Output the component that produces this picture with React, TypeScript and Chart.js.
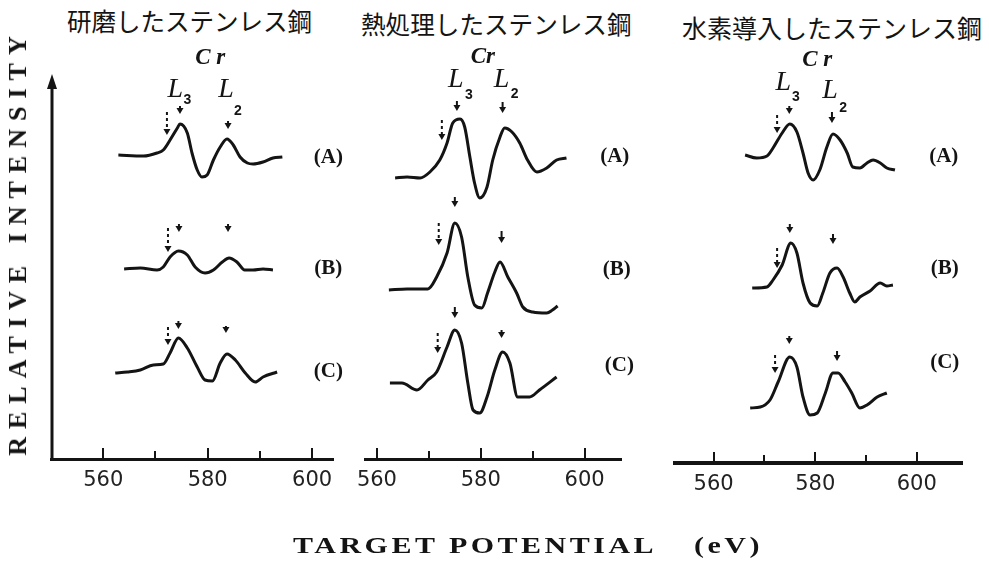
import React, { useEffect, useRef } from 'react';
import { Chart, registerables } from 'chart.js';

Chart.register(...registerables);

const INK = '#141414';
const W = 989;
const H = 561;

const TITLES = ['研磨したステンレス鋼', '熱処理したステンレス鋼', '水素導入したステンレス鋼'];
const X_TITLE = 'TARGET POTENTIAL';
const X_UNIT = '(eV)';
const Y_TITLE = 'RELATIVE INTENSITY';
const TICK_VALUES = [560, 570, 580, 590, 600];
const SPECTRUM_TAGS = ['(A)', '(B)', '(C)'];

// ---- Panel 1: polished stainless steel (研磨) ----
const polA_eV = [562.9, 567.7, 570.3, 571.5, 572.8, 574.2, 574.7, 576.1, 577.0, 578.0, 578.9, 579.9, 581.1, 582.4, 583.7, 584.9, 586.2, 587.6, 588.7, 590.6, 592.5, 594.3];
const polA_I = [304, 303, 306, 309, 319, 331, 335, 326, 306, 289, 282, 284, 299, 312, 320, 314, 302, 296, 295, 297, 301, 302];
const polB_eV = [564.0, 567.1, 570.3, 571.5, 572.8, 574.4, 576.1, 577.6, 579.5, 581.1, 582.8, 584.1, 585.6, 587.1, 588.7, 590.6, 592.5];
const polB_I = [190, 191, 189, 192, 202, 208, 204, 192, 186, 189, 197, 201, 197, 189, 189, 190, 189];
const polC_eV = [562.3, 564.6, 567.1, 569.6, 571.5, 572.8, 574.4, 576.1, 578.0, 579.5, 580.9, 582.4, 583.7, 585.3, 587.2, 589.1, 590.6, 593.3];
const polC_I = [86, 87, 89, 94, 95, 106, 121, 111, 92, 79, 78, 96, 105, 99, 86, 77, 82, 87];

// ---- Panel 2: heat-treated stainless steel (熱処理) ----
const heatA_eV = [563.5, 565.8, 568.3, 570.2, 572.1, 573.5, 574.6, 576.0, 576.9, 577.9, 578.8, 579.8, 581.2, 582.3, 583.7, 584.6, 586.0, 587.5, 589.0, 590.8, 592.7, 594.6, 596.5];
const heatA_I = [281, 282, 281, 287, 299, 316, 336, 340, 332, 302, 276, 261, 272, 299, 322, 331, 327, 316, 299, 287, 291, 299, 301];
const heatB_eV = [562.3, 565.8, 569.8, 571.5, 573.5, 575.0, 576.3, 577.5, 578.8, 580.2, 581.3, 582.7, 583.7, 585.2, 586.9, 588.1, 590.0, 592.7, 593.8, 594.8];
const heatB_I = [169, 170, 170, 182, 206, 236, 222, 182, 154, 151, 166, 187, 197, 182, 166, 152, 147, 146, 149, 153];
const heatC_eV = [562.5, 564.8, 567.7, 569.8, 571.5, 573.5, 575.0, 576.3, 577.5, 578.5, 579.8, 581.2, 582.7, 584.2, 585.6, 587.1, 589.4, 591.3, 594.6];
const heatC_I = [76, 76, 69, 79, 87, 112, 129, 116, 76, 49, 46, 62, 89, 107, 96, 62, 62, 69, 82];

// ---- Panel 3: hydrogen-charged stainless steel (水素導入) ----
const hydA_eV = [566.2, 568.5, 570.5, 571.7, 573.5, 575.0, 576.4, 577.6, 578.6, 579.6, 580.9, 582.3, 583.5, 584.9, 586.3, 587.4, 588.8, 590.2, 591.4, 592.8, 594.1, 595.7];
const hydA_I = [308, 305, 307, 315, 330, 339, 331, 310, 290, 283, 293, 316, 329, 323, 310, 296, 295, 300, 303, 300, 295, 293];
const hydB_eV = [567.6, 570.5, 571.7, 573.5, 575.2, 576.4, 577.6, 579.0, 580.4, 581.5, 582.9, 584.3, 585.5, 586.8, 587.8, 588.8, 590.8, 592.8, 594.1, 595.3];
const hydB_I = [175, 176, 183, 198, 220, 210, 180, 160, 157, 170, 190, 195, 186, 170, 161, 166, 172, 180, 177, 178];
const hydC_eV = [567.2, 569.2, 571.1, 572.7, 575.0, 576.4, 577.6, 579.0, 580.4, 582.0, 583.5, 584.5, 585.9, 587.2, 588.8, 590.2, 592.2, 594.1];
const hydC_I = [55, 56, 63, 81, 106, 96, 66, 48, 50, 70, 90, 90, 81, 70, 55, 58, 66, 70];

// arrows: [eV, top intensity, tip intensity, dashed(1)/solid(0)]
const polArrows = [
  [574.7, 353, 345, 0], [583.9, 338, 330, 0], [572.2, 347, 324, 1],
  [574.5, 235, 227, 0], [583.9, 235, 227, 0], [572.4, 231, 207, 1],
  [574.4, 138, 130, 0], [583.5, 133, 126, 0], [572.4, 132, 114, 1],
];
const heatArrows = [
  [575.4, 358, 348, 0], [584.2, 357, 346, 0], [572.5, 339, 319, 1],
  [575.0, 262, 252, 0], [584.0, 228, 216, 0], [571.9, 236, 214, 1],
  [575.0, 152, 141, 0], [584.0, 129, 121, 0], [571.7, 126, 106, 1],
];
const hydArrows = [
  [574.9, 357, 349, 0], [583.3, 351, 340, 0], [572.5, 348, 330, 1],
  [575.0, 239, 230, 0], [583.5, 229, 219, 0], [572.5, 215, 195, 1],
  [574.9, 127, 119, 0], [584.3, 112, 102, 0], [572.1, 108, 90, 1],
];

// texts: [text, eV, intensity, kind]
const polTexts = [
  ['C r', 580.5, 401, 'cr'], ['L', 573.8, 369, 'L'], ['3', 576.1, 359, 'sub'],
  ['L', 583.5, 369, 'L'], ['2', 585.8, 348, 'sub'],
  [SPECTRUM_TAGS[0], 603.1, 301, 'tag'], [SPECTRUM_TAGS[1], 603.1, 190, 'tag'], [SPECTRUM_TAGS[2], 603.1, 87, 'tag'],
];
const heatTexts = [
  ['Cr', 580.4, 402, 'cr'], ['L', 575.2, 379, 'L'], ['3', 577.7, 364, 'sub'],
  ['L', 584.0, 379, 'L'], ['2', 586.5, 365, 'sub'],
  [SPECTRUM_TAGS[0], 605.8, 302, 'tag'], [SPECTRUM_TAGS[1], 606.2, 189, 'tag'], [SPECTRUM_TAGS[2], 606.7, 93, 'tag'],
];
const hydTexts = [
  ['C r', 580.4, 403, 'cr'], ['L', 573.7, 380, 'L'], ['3', 576.2, 366, 'sub'],
  ['L', 582.9, 372, 'L'], ['2', 585.5, 355, 'sub'],
  [SPECTRUM_TAGS[0], 605.3, 306, 'tag'], [SPECTRUM_TAGS[1], 605.5, 194, 'tag'], [SPECTRUM_TAGS[2], 605.5, 100, 'tag'],
];

type Panel = {
  curves: [number[], number[]][];
  xMin: number; xMax: number; yMax: number;
  left: number; right: number; top: number; axisY: number;
  axisWidth: number; yAxis: boolean;
  arrows: number[][]; texts: (string | number)[][];
};

const PANELS: Panel[] = [
  {
    curves: [[polA_eV, polA_I], [polB_eV, polB_I], [polC_eV, polC_I]],
    xMin: 550, xMax: 604, yMax: 385, left: 51, right: 333, top: 74, axisY: 459,
    axisWidth: 3, yAxis: true, arrows: polArrows, texts: polTexts,
  },
  {
    curves: [[heatA_eV, heatA_I], [heatB_eV, heatB_I], [heatC_eV, heatC_I]],
    xMin: 557.7, xMax: 607, yMax: 385, left: 365, right: 621, top: 74, axisY: 459,
    axisWidth: 3, yAxis: false, arrows: heatArrows, texts: heatTexts,
  },
  {
    curves: [[hydA_eV, hydA_I], [hydB_eV, hydB_I], [hydC_eV, hydC_I]],
    xMin: 552.4, xMax: 608.9, yMax: 389, left: 675, right: 962, top: 74, axisY: 463,
    axisWidth: 4, yAxis: false, arrows: hydArrows, texts: hydTexts,
  },
];

const FONTS: Record<string, string> = {
  cr: 'italic bold 23px "Liberation Serif"',
  L: 'italic 28px "Liberation Serif"',
  sub: 'bold 14px "Liberation Sans"',
  tag: 'bold 21px "Liberation Serif"',
};

function makeAnnotations(p: Panel, idx: number) {
  return {
    id: 'annot' + idx,
    afterDraw(chart: any) {
      const { ctx, chartArea } = chart;
      const xs = chart.scales.x;
      const ys = chart.scales.y;
      ctx.save();
      ctx.strokeStyle = INK;
      ctx.fillStyle = INK;
      // inward tick marks
      ctx.lineWidth = 2;
      for (const v of TICK_VALUES) {
        const px = Math.round(xs.getPixelForValue(v));
        const len = v % 20 === 0 ? 11 : 8;
        ctx.beginPath();
        ctx.moveTo(px, chartArea.bottom);
        ctx.lineTo(px, chartArea.bottom - len);
        ctx.stroke();
      }
      // intensity axis with arrow head
      if (p.yAxis) {
        const x0 = chartArea.left + 1;
        ctx.lineWidth = 3;
        ctx.beginPath();
        ctx.moveTo(x0, chartArea.bottom);
        ctx.lineTo(x0, chartArea.top + 10);
        ctx.stroke();
        ctx.beginPath();
        ctx.moveTo(x0, chartArea.top);
        ctx.lineTo(x0 - 5, chartArea.top + 15);
        ctx.lineTo(x0 + 5, chartArea.top + 15);
        ctx.closePath();
        ctx.fill();
      }
      // peak arrows
      for (const [e, top, tip, dashed] of p.arrows) {
        const x = xs.getPixelForValue(e);
        const yTop = ys.getPixelForValue(top);
        const yTip = ys.getPixelForValue(tip);
        ctx.lineWidth = 2;
        ctx.setLineDash(dashed ? [3, 3] : []);
        ctx.beginPath();
        ctx.moveTo(x, yTop);
        ctx.lineTo(x, yTip - 4);
        ctx.stroke();
        ctx.setLineDash([]);
        ctx.beginPath();
        ctx.moveTo(x, yTip);
        ctx.lineTo(x - 3.5, yTip - 6);
        ctx.lineTo(x + 3.5, yTip - 6);
        ctx.closePath();
        ctx.fill();
      }
      // labels
      ctx.textAlign = 'center';
      ctx.textBaseline = 'middle';
      for (const [t, e, i, kind] of p.texts) {
        ctx.font = FONTS[kind as string];
        ctx.fillText(String(t), xs.getPixelForValue(e as number), ys.getPixelForValue(i as number));
      }
      ctx.restore();
    },
  };
}

function PanelChart({ panel, idx }: { panel: Panel; idx: number }) {
  const ref = useRef<HTMLCanvasElement | null>(null);
  useEffect(() => {
    if (!ref.current) return;
    const chart = new Chart(ref.current, {
      type: 'line',
      data: {
        datasets: panel.curves.map(([xs, ys], k) => ({
          label: SPECTRUM_TAGS[k],
          data: xs.map((x, j) => ({ x, y: ys[j] })),
          borderColor: INK,
          borderWidth: 3,
          pointRadius: 0,
          fill: false,
          cubicInterpolationMode: 'monotone' as const,
        })),
      },
      options: {
        responsive: false,
        animation: false,
        events: [],
        layout: {
          padding: {
            left: panel.left,
            right: W - panel.right,
            top: panel.top,
            bottom: H - panel.axisY - 40,
          },
        },
        plugins: { legend: { display: false }, tooltip: { enabled: false }, title: { display: false } },
        scales: {
          x: {
            type: 'linear',
            min: panel.xMin,
            max: panel.xMax,
            afterBuildTicks: (s: any) => { s.ticks = TICK_VALUES.map((v) => ({ value: v })); },
            afterFit: (s: any) => { s.height = 40; },
            grid: { display: false, drawTicks: false },
            border: { display: true, color: INK, width: panel.axisWidth },
            ticks: {
              padding: 9,
              color: '#222',
              autoSkip: false,
              maxRotation: 0,
              font: { family: '"DejaVu Sans"', size: 21 },
              callback: (v: any) => (Number(v) % 20 === 0 ? String(v) : ''),
            },
          },
          y: { display: false, min: 0, max: panel.yMax },
        },
      },
      plugins: [makeAnnotations(panel, idx)],
    } as any);
    return () => chart.destroy();
  }, [panel, idx]);
  return (
    <canvas
      ref={ref}
      width={W}
      height={H}
      style={{ position: 'absolute', left: 0, top: 0, width: W, height: H }}
    />
  );
}

const titleStyle = (left: number, top: number, size: number): React.CSSProperties => ({
  position: 'absolute', left, top, fontFamily: '"Noto Sans CJK JP"', fontSize: size,
  lineHeight: '24px', whiteSpace: 'nowrap', color: INK,
});

const xTitleStyle = (left: number): React.CSSProperties => ({
  position: 'absolute', left, top: 533, fontFamily: '"Liberation Serif"', fontWeight: 'bold',
  fontSize: 24, letterSpacing: '2.8px', whiteSpace: 'nowrap', color: INK, lineHeight: '24px',
  transform: 'scaleX(1.25)', transformOrigin: 'left center',
});

export default function App() {
  return (
    <div style={{ position: 'absolute', left: 0, top: 0, width: W, height: H, background: '#fff', overflow: 'hidden' }}>
      <div style={titleStyle(67, 9, 24.5)}>{TITLES[0]}</div>
      <div style={titleStyle(361, 11, 24.6)}>{TITLES[1]}</div>
      <div style={titleStyle(682, 15, 25)}>{TITLES[2]}</div>
      {PANELS.map((p, i) => <PanelChart key={i} panel={p} idx={i} />)}
      <div
        style={{
          position: 'absolute', left: 18, top: 242, transform: 'translate(-50%, -50%) rotate(-90deg)',
          fontFamily: '"Liberation Serif"', fontWeight: 'bold', fontSize: 26, letterSpacing: '8px',
          whiteSpace: 'nowrap', color: INK, lineHeight: '26px',
        }}
      >
        {Y_TITLE}
      </div>
      <div style={xTitleStyle(293)}>{X_TITLE}</div>
      <div style={xTitleStyle(694)}>{X_UNIT}</div>
    </div>
  );
}
